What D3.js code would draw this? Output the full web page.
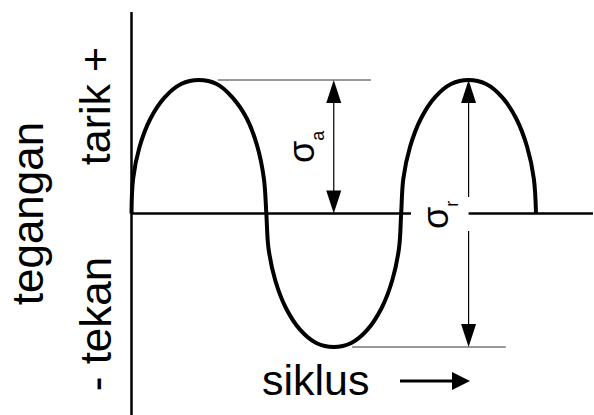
<!DOCTYPE html>
<html lang="id">
<head>
<meta charset="utf-8">
<script src="https://d3js.org/d3.v7.min.js"></script>
<style>
    body { margin: 0; background: #fff; }
    text { font-family: "Liberation Sans", Arial, sans-serif; fill: #000; }
</style>
</head>
<body>
<script>

// posisi dalam siklus (0 .. 1.5) dan tegangan relatif (-1 .. 1)
const siklus = [0, 0.006, 0.03, 0.07, 0.123, 0.184, 0.25, 0.316, 0.374, 0.428, 0.467, 0.491, 0.5,
                0.508, 0.533, 0.573, 0.625, 0.685, 0.75, 0.815, 0.875, 0.927, 0.967, 0.992, 1.0,
                1.008, 1.033, 1.073, 1.125, 1.185, 1.25, 1.315, 1.375, 1.427, 1.467, 1.492, 1.5];
const tegangan = [0, 0.26, 0.5, 0.71, 0.87, 0.97, 1, 0.97, 0.87, 0.71, 0.5, 0.26, 0,
                  -0.26, -0.5, -0.71, -0.87, -0.97, -1, -0.97, -0.87, -0.71, -0.5, -0.26, 0,
                  0.26, 0.5, 0.71, 0.87, 0.97, 1, 0.97, 0.87, 0.71, 0.5, 0.26, 0];

// garis bantu tipis di puncak dan lembah (awal siklus, akhir siklus, tegangan)
const garisBantu = [[0.32, 0.888, 1], [0.818, 1.388, -1]];

// panah amplitudo (sigma_a) dan rentang (sigma_r)
const panahSiklus = [0.75, 1.25];

// label teks
const labelSumbuY = "tegangan";
const labelTarik = "tarik +";
const labelTekan = "- tekan";
const labelSumbuX = "siklus";

const width = 594; const height = 415;

const svg = d3.select("body")
    .append("svg")
    .attr("width", width)
    .attr("height", height);

const x = d3.scaleLinear().domain([0, 1.5]).range([131.5, 536]);
const y = d3.scaleLinear().domain([-1, 1]).range([347, 80]);

const data = siklus.map((s, i) => ({ s: s, t: tegangan[i] }));

// sumbu vertikal
svg.append("line")
    .attr("x1", x(0)).attr("x2", x(0))
    .attr("y1", 12).attr("y2", height)
    .attr("stroke", "#000").attr("stroke-width", 2.5);

// sumbu horizontal, terputus di label sigma_r
svg.append("line")
    .attr("x1", x(0)).attr("x2", 411)
    .attr("y1", y(0)).attr("y2", y(0))
    .attr("stroke", "#000").attr("stroke-width", 2.5);
svg.append("line")
    .attr("x1", x(panahSiklus[1])).attr("x2", 593)
    .attr("y1", y(0)).attr("y2", y(0))
    .attr("stroke", "#000").attr("stroke-width", 2.5);

// garis bantu tipis
garisBantu.forEach(g => {
    svg.append("line")
        .attr("x1", x(g[0])).attr("x2", x(g[1]))
        .attr("y1", y(g[2])).attr("y2", y(g[2]))
        .attr("stroke", "#333").attr("stroke-width", 1);
});

// kurva tegangan
svg.append("path")
    .datum(data)
    .attr("fill", "none")
    .attr("stroke", "#000")
    .attr("stroke-width", 4)
    .attr("d", d3.line()
        .x(d => x(d.s))
        .y(d => y(d.t))
        .curve(d3.curveCatmullRom.alpha(0.5)));

// kepala panah (ujung di (px,py), arah ke atas = -1, ke bawah = +1)
function kepala(px, py, arah, panjang, lebar) {
    svg.append("path")
        .attr("d", `M${px},${py} L${px - lebar / 2},${py - arah * panjang} L${px + lebar / 2},${py - arah * panjang} Z`)
        .attr("fill", "#000");
}

// panah sigma_a: dari garis nol ke puncak
const xa = x(panahSiklus[0]);
svg.append("line")
    .attr("x1", xa).attr("x2", xa)
    .attr("y1", y(1) + 20).attr("y2", y(0) - 20)
    .attr("stroke", "#000").attr("stroke-width", 1.2);
kepala(xa, y(1), -1, 23, 15);
kepala(xa, y(0), 1, 23, 15);

// panah sigma_r: dari lembah ke puncak, terputus di label
const xr = x(panahSiklus[1]);
svg.append("line")
    .attr("x1", xr).attr("x2", xr)
    .attr("y1", y(1) + 20).attr("y2", 197)
    .attr("stroke", "#000").attr("stroke-width", 1.2);
svg.append("line")
    .attr("x1", xr).attr("x2", xr)
    .attr("y1", 231).attr("y2", y(-1) - 20)
    .attr("stroke", "#000").attr("stroke-width", 1.2);
kepala(xr, y(1), -1, 23, 15);
kepala(xr, y(-1), 1, 23, 15);

// label sigma
function labelSigma(px, py, sub) {
    const t = svg.append("text")
        .attr("transform", `translate(${px},${py}) rotate(-90)`)
        .attr("text-anchor", "start");
    t.append("tspan").attr("font-size", 36).text("σ");
    t.append("tspan").attr("font-size", 18).attr("dy", 10).text(sub);
}
labelSigma(314, 163, "a");
labelSigma(448, 229, "r");

// label sumbu y (diputar)
svg.append("text")
    .attr("transform", `translate(43,${y(0)}) rotate(-90)`)
    .attr("text-anchor", "middle")
    .attr("font-size", 44)
    .text(labelSumbuY);

svg.append("text")
    .attr("transform", "translate(110,106) rotate(-90)")
    .attr("text-anchor", "middle")
    .attr("font-size", 43)
    .text(labelTarik);

svg.append("text")
    .attr("transform", "translate(111,324) rotate(-90)")
    .attr("text-anchor", "middle")
    .attr("font-size", 44)
    .text(labelTekan);

// label sumbu x dengan panah
svg.append("text")
    .attr("x", 262).attr("y", 395)
    .attr("font-size", 43)
    .text(labelSumbuX);

svg.append("line")
    .attr("x1", 400).attr("x2", 453)
    .attr("y1", 381).attr("y2", 381)
    .attr("stroke", "#000").attr("stroke-width", 3);
svg.append("path")
    .attr("d", "M470,381 L452,372 L452,390 Z")
    .attr("fill", "#000");

</script>
</body>
</html>
